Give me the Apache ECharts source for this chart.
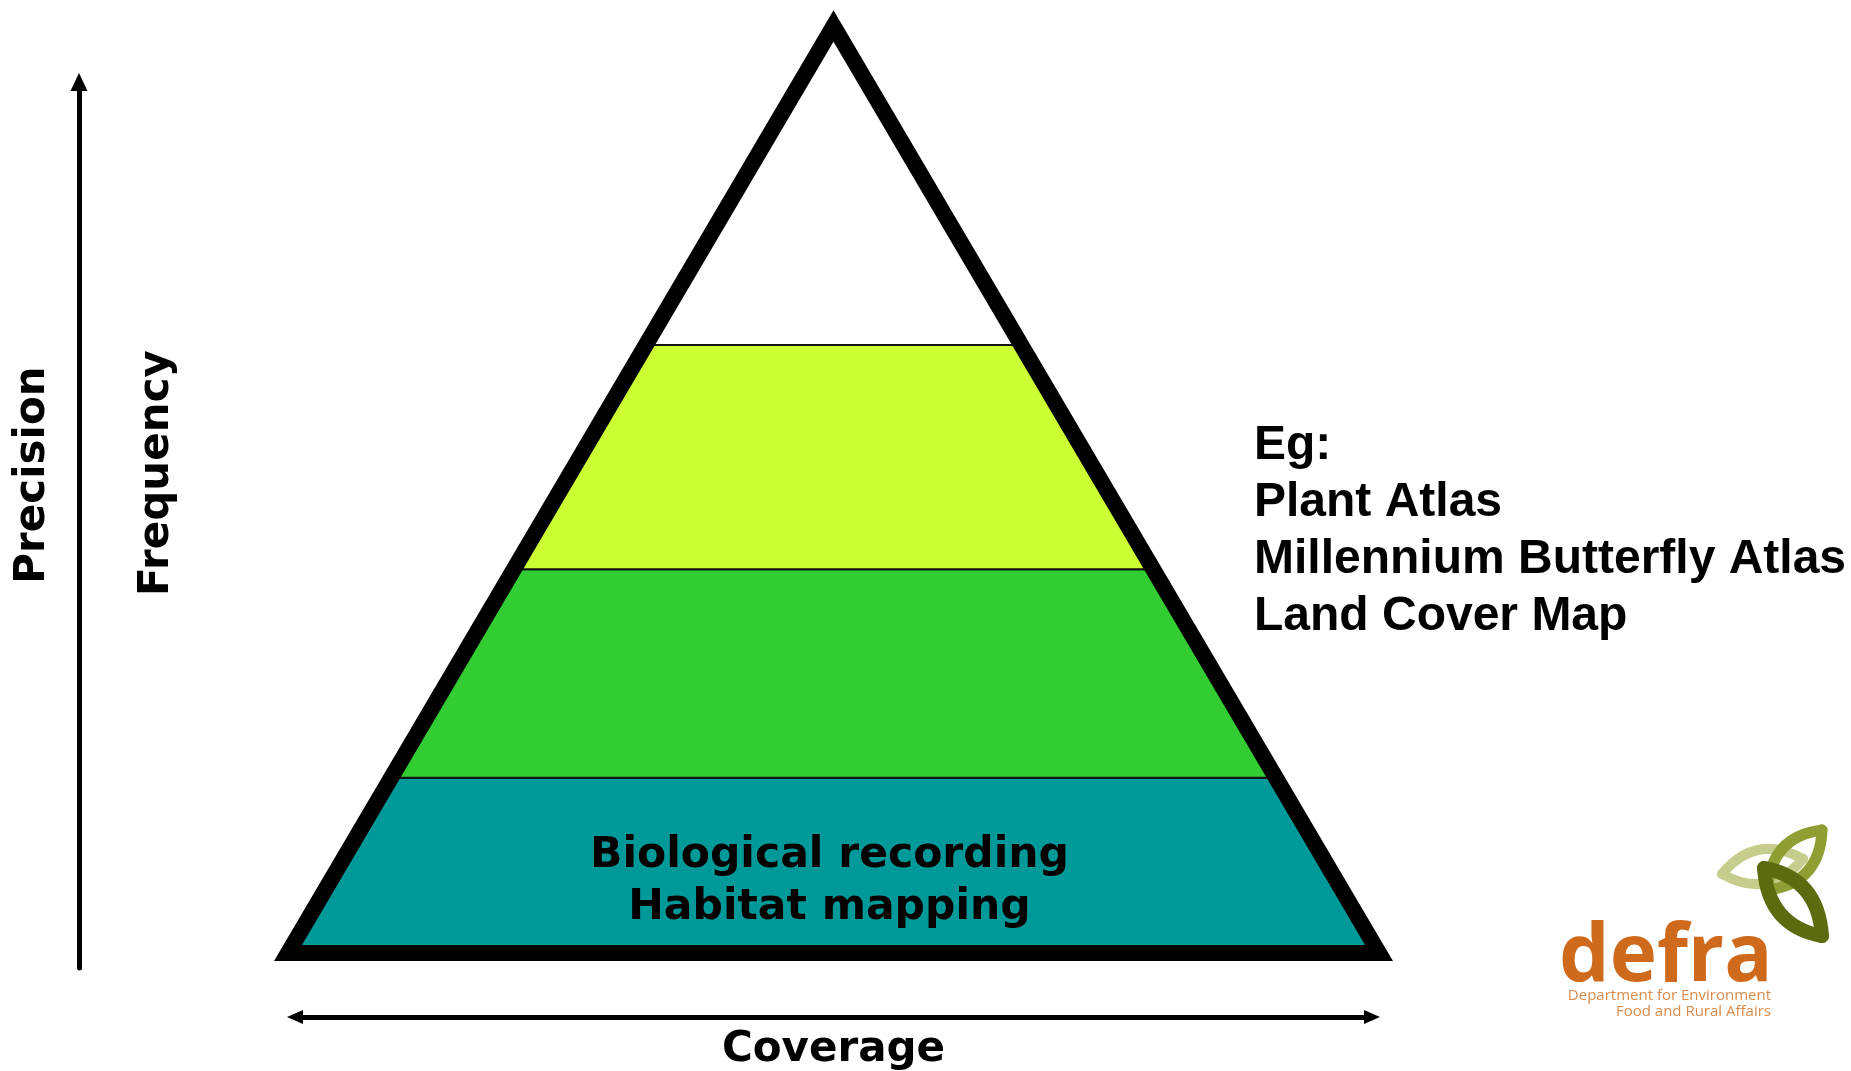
<!DOCTYPE html>
<html>
<head>
<meta charset="utf-8">
<title>Survey pyramid</title>
<script src="https://cdn.jsdelivr.net/npm/echarts@6/dist/echarts.min.js"></script>
<style>
  html, body { margin: 0; padding: 0; background: #fff; }
  #main { width: 1851px; height: 1071px; }
</style>
</head>
<body>
<div id="main"></div>
<script>
// bands of the pyramid, from the base (level 0) up to the apex (level 1)
const bandNames   = ['Biological recording\nHabitat mapping', '', '', ''];
const bandBottoms = [0, 0.189, 0.414, 0.656];
const bandTops    = [0.189, 0.414, 0.656, 1];
const bandColors  = ['#009999', '#33CC33', '#CCFF33', '#FFFFFF'];

const examples = ['Eg:', 'Plant Atlas', 'Millennium Butterfly Atlas', 'Land Cover Map'];

const chart = echarts.init(document.getElementById('main'));

const boldVerdana = 'bold 42px "DejaVu Sans", Verdana, sans-serif';

function renderBand(params, api) {
  const lo = api.value(0), hi = api.value(1);
  const pts = [
    api.coord([-(1 - lo), lo]),
    api.coord([1 - lo, lo]),
    api.coord([1 - hi, hi]),
    api.coord([-(1 - hi), hi])
  ];
  const children = [{
    type: 'polygon',
    shape: { points: pts },
    style: { fill: bandColors[params.dataIndex], stroke: '#111', lineWidth: 2 }
  }];
  const label = bandNames[params.dataIndex];
  if (label) {
    const mid = api.coord([0, (lo + hi) / 2]);
    children.push({
      type: 'text',
      x: mid[0] - 4,
      y: mid[1] + 17,
      style: {
        text: label, font: 'bold 42.5px "DejaVu Sans", Verdana, sans-serif', fill: '#000', lineHeight: 52,
        align: 'center', verticalAlign: 'middle',
        textAlign: 'center', textVerticalAlign: 'middle'
      }
    });
  }
  return { type: 'group', children: children };
}

function renderOutline(params, api) {
  return {
    type: 'polygon',
    shape: { points: [api.coord([-1, 0]), api.coord([1, 0]), api.coord([0, 1])] },
    style: { fill: 'none', stroke: '#000', lineWidth: 16, lineJoin: 'miter', miterLimit: 10 }
  };
}

const arrowAxisBase = {
  type: 'value', min: 0, max: 1,
  axisTick: { show: false }, axisLabel: { show: false }, splitLine: { show: false }
};

function txt(x, y, text, font, extra) {
  return Object.assign({
    type: 'text', x: x, y: y, silent: true,
    style: Object.assign({
      text: text, font: font, fill: '#000',
      align: 'center', verticalAlign: 'middle',
      textAlign: 'center', textVerticalAlign: 'middle'
    }, (extra && extra.style) || {})
  }, extra && extra.el || {});
}

function leaf(x1, y1, x2, y2, c1, c2, color, w) {
  const st = { stroke: color, lineWidth: w, fill: 'none', lineCap: 'round' };
  return [
    { type: 'bezierCurve', silent: true, shape: { x1: x1, y1: y1, x2: x2, y2: y2, cpx1: c1[0], cpy1: c1[1] }, style: st },
    { type: 'bezierCurve', silent: true, shape: { x1: x1, y1: y1, x2: x2, y2: y2, cpx1: c2[0], cpy1: c2[1] }, style: st }
  ];
}

const option = {
  animation: false,
  backgroundColor: '#fff',
  grid: [
    { left: 288, top: 26, width: 1091, height: 927, outerBoundsMode: 'none' },
    { left: 79, top: 82, width: 10, height: 886, outerBoundsMode: 'none' },
    { left: 295, top: 1000, width: 1077, height: 17, outerBoundsMode: 'none' }
  ],
  xAxis: [
    { gridIndex: 0, type: 'value', min: -1, max: 1, show: false },
    { gridIndex: 1, type: 'value', min: 0, max: 1, show: false },
    Object.assign({}, arrowAxisBase, {
      gridIndex: 2, position: 'bottom',
      axisLine: { show: true, onZero: false, symbol: ['triangle', 'triangle'], symbolSize: [14, 16],
                  lineStyle: { color: '#000', width: 5 } }
    })
  ],
  yAxis: [
    { gridIndex: 0, type: 'value', min: 0, max: 1, show: false },
    Object.assign({}, arrowAxisBase, {
      gridIndex: 1, position: 'left',
      axisLine: { show: true, onZero: false, symbol: ['none', 'triangle'], symbolSize: [17, 18],
                  lineStyle: { color: '#000', width: 5 } }
    }),
    { gridIndex: 2, type: 'value', min: 0, max: 1, show: false }
  ],
  series: [
    {
      type: 'custom', xAxisIndex: 0, yAxisIndex: 0, silent: true, clip: false, z: 2,
      renderItem: renderBand,
      data: bandBottoms.map((b, i) => [b, bandTops[i]])
    },
    {
      type: 'custom', xAxisIndex: 0, yAxisIndex: 0, silent: true, clip: false, z: 3,
      renderItem: renderOutline,
      data: [[0, 1]]
    }
  ],
  graphic: [
    txt(33, 475, 'Precision', boldVerdana, { el: { rotation: Math.PI / 2 } }),
    txt(157, 473, 'Frequency', boldVerdana, { el: { rotation: Math.PI / 2 } }),
    txt(833.5, 1050.5, 'Coverage', boldVerdana),
    txt(1254, 531, examples.join('\n'), 'bold 48px "Liberation Sans", Arial, sans-serif',
        { style: { align: 'left', textAlign: 'left', lineHeight: 57 } }),
    // defra logo
    ...leaf(1722, 874, 1803, 859, [1768, 900], [1756, 833], '#C6CD8C', 10),
    ...leaf(1822, 830, 1768, 890, [1820, 883], [1770, 837], '#8E9E32', 11),
    ...leaf(1764, 868, 1822, 936, [1818, 878], [1768, 926], '#5C6B10', 14),
    txt(1559, 958, 'defra', 'bold 80px "Open Sans", sans-serif',
        { style: { align: 'left', textAlign: 'left', fill: '#CF6A1D' } }),
    txt(1771, 996, 'Department for Environment', '15px "Open Sans", sans-serif',
        { style: { align: 'right', textAlign: 'right', fill: '#D98A4C' } }),
    txt(1771, 1012, 'Food and Rural Affairs', '15px "Open Sans", sans-serif',
        { style: { align: 'right', textAlign: 'right', fill: '#D98A4C' } })
  ]
};

chart.setOption(option);
</script>
</body>
</html>
